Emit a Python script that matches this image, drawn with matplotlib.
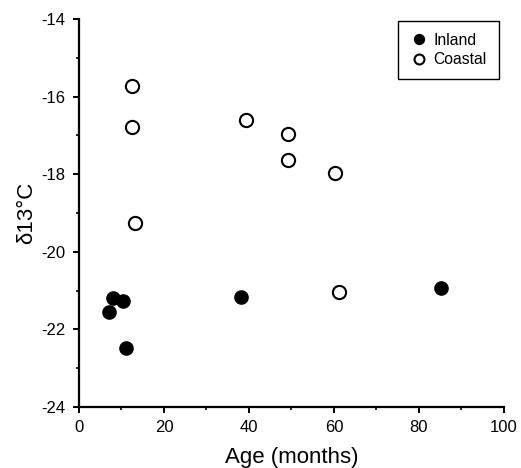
import matplotlib
matplotlib.use("Agg")
from matplotlib import pyplot as plt
from matplotlib.ticker import MultipleLocator

inland_age = [7.1, 8.1, 10.4, 11.1, 38.1, 85.1]
inland_d13c = [-21.54, -21.2, -21.26, -22.49, -21.16, -20.92]

coastal_age = [12.4, 12.4, 13.3, 39.4, 49.3, 49.3, 60.2, 61.3]
coastal_d13c = [-15.73, -16.78, -19.25, -16.6, -16.96, -17.63, -17.96, -21.03]

x_ticks = [0, 20, 40, 60, 80, 100]
y_ticks = [-24, -22, -20, -18, -16, -14]


def main():
    plt.rcParams['font.family'] = ['Liberation Sans', 'DejaVu Sans']
    plt.rcParams['axes.unicode_minus'] = False
    fig = plt.figure(figsize=(5.21, 4.68), dpi=100)
    ax = fig.add_axes([0.1516, 0.1303, 0.8154, 0.8291])

    ax.plot(inland_age, inland_d13c, 'o', color='black', markersize=9.5,
            label='Inland', clip_on=False)
    ax.plot(coastal_age, coastal_d13c, 'o', markerfacecolor='white',
            markeredgecolor='black', markeredgewidth=1.5, markersize=9.5,
            label='Coastal', clip_on=False)

    ax.set_xlim(0, 100)
    ax.set_ylim(-24, -14)
    ax.set_xticks(x_ticks)
    ax.set_yticks(y_ticks)
    ax.xaxis.set_minor_locator(MultipleLocator(10))
    ax.yaxis.set_minor_locator(MultipleLocator(1))

    for side in ['top', 'right']:
        ax.spines[side].set_visible(False)
    for side in ['left', 'bottom']:
        ax.spines[side].set_linewidth(1.6)
    ax.tick_params(which='major', direction='out', length=4, width=1.4,
                   labelsize=12)
    ax.tick_params(axis='x', which='major', pad=5)
    ax.tick_params(axis='y', which='major', pad=6)
    ax.tick_params(which='minor', direction='out', length=2.5, width=1.2)

    ax.set_xlabel('Age (months)', fontsize=16, labelpad=9)
    ax.set_ylabel('δ13°C', fontsize=16, labelpad=3)

    leg = ax.legend(loc='upper right', bbox_to_anchor=(0.988, 0.995),
                    fancybox=False, edgecolor='black', fontsize=11.3,
                    handletextpad=0.35, borderpad=0.75, labelspacing=0.3,
                    handlelength=1.2, markerscale=0.75, framealpha=1,
                    borderaxespad=0)
    leg.get_frame().set_linewidth(1.0)

    fig.savefig('out.png', dpi=100)
    return 0


if __name__ == '__main__':
    raise SystemExit(main())
